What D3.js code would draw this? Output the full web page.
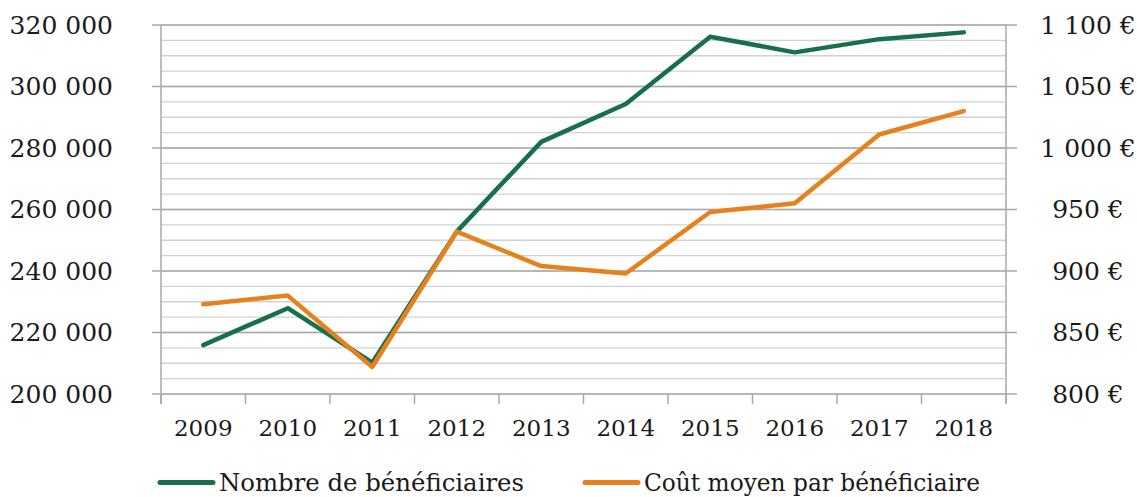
<!DOCTYPE html>
<html>
<head>
<meta charset="utf-8">
<script src="https://cdnjs.cloudflare.com/ajax/libs/d3/7.8.5/d3.min.js"></script>
<style>
  body { margin: 0; background: #fff; }
  text { font-family: "DejaVu Serif", serif; fill: #1a1a1a; }
  .domain { display: none; }
</style>
</head>
<body>
<svg id="chart" width="1137" height="497"></svg>
<script>
// data
var years = ["2009", "2010", "2011", "2012", "2013", "2014", "2015", "2016", "2017", "2018"];
var beneficiaires = [215900, 227900, 210200, 252800, 282000, 294300, 316200, 311100, 315400, 317600];
var coutMoyen = [873, 880, 822, 932, 904, 898, 948, 955, 1011, 1030];
var leftTicks = [200000, 220000, 240000, 260000, 280000, 300000, 320000];
var rightTicks = [800, 850, 900, 950, 1000, 1050, 1100];
var seriesNames = ["Nombre de bénéficiaires", "Coût moyen par bénéficiaire"];
var seriesColors = ["#17704a", "#e6821e"];

var plot = {left: 161, right: 1006, top: 25, bottom: 394};

var svg = d3.select("#chart");

var fr = d3.formatLocale({decimal: ",", thousands: " ", grouping: [3], currency: ["", " €"]});
var fmt = fr.format(",d");

// scales
var x = d3.scaleBand()
  .domain(years)
  .range([plot.left, plot.right])
  .padding(0);

var yL = d3.scaleLinear()
  .domain([200000, 320000])
  .range([plot.bottom, plot.top]);

var yR = d3.scaleLinear()
  .domain([800, 1100])
  .range([plot.bottom, plot.top]);

// minor gridlines every 5 000
var minor = d3.range(200000, 320001, 5000);
svg.append("g")
  .selectAll("line")
  .data(minor)
  .enter().append("line")
    .attr("x1", plot.left)
    .attr("x2", plot.right)
    .attr("y1", function(d) { return yL(d); })
    .attr("y2", function(d) { return yL(d); })
    .style("stroke", "#d2d2d2")
    .style("stroke-width", 1.3);

// major gridlines (extend as ticks on both sides)
svg.append("g")
  .selectAll("line")
  .data(leftTicks)
  .enter().append("line")
    .attr("x1", plot.left - 9)
    .attr("x2", plot.right + 11)
    .attr("y1", function(d) { return yL(d); })
    .attr("y2", function(d) { return yL(d); })
    .style("stroke", "#a8a8a8")
    .style("stroke-width", 1.3);

// vertical axis lines
[plot.left, plot.right].forEach(function(px) {
  svg.append("line")
    .attr("x1", px).attr("x2", px)
    .attr("y1", plot.top).attr("y2", plot.bottom + 10)
    .style("stroke", "#a8a8a8")
    .style("stroke-width", 1.5);
});

// category boundary ticks
var bounds = years.map(function(d) { return x(d); }).concat([x.range()[1]]);
svg.append("g")
  .selectAll("line")
  .data(bounds)
  .enter().append("line")
    .attr("x1", function(d) { return d; })
    .attr("x2", function(d) { return d; })
    .attr("y1", plot.bottom)
    .attr("y2", plot.bottom + 10)
    .style("stroke", "#a8a8a8")
    .style("stroke-width", 1.5);

// left axis labels
var leftAxis = svg.append("g")
  .attr("transform", "translate(" + plot.left + ",0)")
  .call(d3.axisLeft(yL).tickValues(leftTicks).tickSize(0).tickPadding(48).tickFormat(fmt));
leftAxis.selectAll("text")
  .style("font-size", "25px")
  .style("font-family", "DejaVu Serif");

// right axis labels
var rightAxis = svg.append("g")
  .attr("transform", "translate(" + plot.right + ",0)")
  .call(d3.axisRight(yR).tickValues(rightTicks).tickSize(0)
    .tickFormat(function(d) { return fmt(d) + " €"; }));
rightAxis.selectAll("text")
  .attr("x", 82)
  .style("text-anchor", "middle")
  .style("font-size", "25px")
  .style("font-family", "DejaVu Serif");

// x axis labels
var xAxis = svg.append("g")
  .attr("transform", "translate(0," + plot.bottom + ")")
  .call(d3.axisBottom(x).tickSize(0).tickPadding(26));
xAxis.selectAll("text")
  .style("font-size", "23px")
  .style("font-family", "DejaVu Serif");
svg.selectAll(".tick line").remove();

// lines
var lineL = d3.line()
  .x(function(d, i) { return x(years[i]) + x.bandwidth() / 2; })
  .y(function(d) { return yL(d); });

var lineR = d3.line()
  .x(function(d, i) { return x(years[i]) + x.bandwidth() / 2; })
  .y(function(d) { return yR(d); });

svg.append("path")
  .datum(beneficiaires)
  .attr("d", lineL)
  .style("fill", "none")
  .style("stroke", seriesColors[0])
  .style("stroke-width", 4.5)
  .style("stroke-linejoin", "round")
  .style("stroke-linecap", "round");

svg.append("path")
  .datum(coutMoyen)
  .attr("d", lineR)
  .style("fill", "none")
  .style("stroke", seriesColors[1])
  .style("stroke-width", 4.5)
  .style("stroke-linejoin", "round")
  .style("stroke-linecap", "round");

// legend
var legendX = [160, 585];
var legendTextLen = [305, 336];
var legend = svg.append("g");
seriesNames.forEach(function(name, i) {
  legend.append("line")
    .attr("x1", legendX[i]).attr("x2", legendX[i] + 53)
    .attr("y1", 482.5).attr("y2", 482.5)
    .style("stroke", seriesColors[i])
    .style("stroke-width", 5)
    .style("stroke-linecap", "round");
  legend.append("text")
    .attr("x", legendX[i] + 59)
    .attr("y", 490.5)
    .attr("textLength", legendTextLen[i])
    .attr("lengthAdjust", "spacingAndGlyphs")
    .style("font-size", "25px")
    .text(name);
});
</script>
</body>
</html>
